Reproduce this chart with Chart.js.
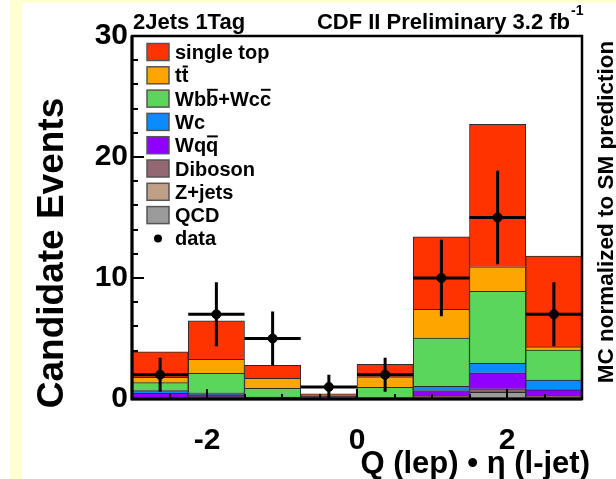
<!DOCTYPE html>
<html>
<head>
<meta charset="utf-8">
<script src="https://cdn.jsdelivr.net/npm/chart.js@4/dist/chart.umd.min.js"></script>
<style>
  html, body { margin: 0; padding: 0; background: #fff; }
  canvas { display: block; }
</style>
</head>
<body>
<canvas id="qeta" width="616" height="479"></canvas>
<script>
// histogram binning in Q(lep)*eta(l-jet)
const binEdges = [-3, -2.25, -1.5, -0.75, 0, 0.75, 1.5, 2.25, 3];

// expected events per bin, stacked bottom to top
const qcd       = [0.03, 0.03, 0.02, 0.00, 0.01, 0.08, 0.55, 0.10];
const zJets     = [0.05, 0.06, 0.04, 0.10, 0.02, 0.05, 0.10, 0.05];
const diboson   = [0.07, 0.10, 0.05, 0.12, 0.03, 0.12, 0.20, 0.10];
const wqq       = [0.32, 0.17, 0.02, 0.02, 0.01, 0.45, 1.32, 0.50];
const wc        = [0.22, 0.16, 0.02, 0.02, 0.01, 0.35, 0.78, 0.82];
const wbbWcc    = [0.66, 1.60, 0.73, 0.04, 0.89, 3.99, 5.95, 2.48];
const ttbar     = [0.45, 1.16, 0.83, 0.06, 0.87, 2.37, 2.03, 0.27];
const singleTop = [2.10, 3.19, 1.07, 0.06, 1.02, 5.99, 11.77, 7.50];

// observed counts and their errors
const dataCounts = [2, 7, 5, 1, 2, 10, 15, 7];
const dataErrors = [1.41, 2.65, 2.24, 1.0, 1.41, 3.16, 3.87, 2.65];

const xTickLabels = [-2, 0, 2];
const yTickLabels = [0, 10, 20, 30];

const FONT = '"Liberation Sans", Arial, Helvetica, sans-serif';

const binCenters = binEdges.slice(0, -1).map((e, i) => (e + binEdges[i + 1]) / 2);
const toXY = vals => vals.map((v, i) => ({ x: binCenters[i], y: v }));

const components = [
  { label: 'QCD', values: qcd, color: '#9b9b9b' },
  { label: 'Z+jets', values: zJets, color: '#bf9f86' },
  { label: 'Diboson', values: diboson, color: '#946872' },
  { label: 'Wqq\u0304', values: wqq, color: '#8f00ff' },
  { label: 'Wc', values: wc, color: '#0a8cff' },
  { label: 'Wbb\u0304+Wcc\u0304', values: wbbWcc, color: '#5ad65a' },
  { label: 'tt\u0304', values: ttbar, color: '#ffa500' },
  { label: 'single top', values: singleTop, color: '#ff3300' }
];

const barSets = components.map(c => ({
  type: 'bar',
  label: c.label,
  data: toXY(c.values),
  backgroundColor: c.color,
  borderColor: '#2a2a2a',
  borderWidth: 1,
  stack: 'mc',
  order: 1,
  barPercentage: 1,
  categoryPercentage: 1
}));

const dataSet = {
  type: 'line',
  label: 'data',
  data: toXY(dataCounts),
  showLine: false,
  pointRadius: 4.5,
  pointBackgroundColor: '#000',
  pointBorderColor: '#000',
  stack: 'obs',
  order: 0
};

// text with combining macron -> draw bar over the preceding glyph
function drawOverlined(ctx, text, x, y, capH) {
  const chars = Array.from(text);
  let cx = x;
  for (let i = 0; i < chars.length; i++) {
    const ch = chars[i];
    if (ch === '\u0304') continue;
    const w = ctx.measureText(ch).width;
    ctx.fillText(ch, cx, y);
    if (chars[i + 1] === '\u0304') {
      ctx.fillRect(cx + 1, y - capH - 2.5, w - 1.5, 2);
    }
    cx += w;
  }
}

const histoDecor = {
  id: 'histoDecor',
  beforeDraw(chart) {
    const { ctx, width, height } = chart;
    ctx.save();
    ctx.fillStyle = '#fff';
    ctx.fillRect(0, 0, width, height);
    ctx.fillStyle = '#ffffd2';
    ctx.fillRect(10, 0, 12, height);
    ctx.fillRect(10, 0, width - 10, 3);
    ctx.restore();
  },
  afterDatasetsDraw(chart) {
    const { ctx, chartArea: a } = chart;
    const xs = chart.scales.x, ys = chart.scales.y;
    ctx.save();

    // data error bars
    ctx.strokeStyle = '#000';
    ctx.lineWidth = 3;
    dataCounts.forEach((n, i) => {
      const py = ys.getPixelForValue(n);
      const px = xs.getPixelForValue(binCenters[i]);
      ctx.beginPath();
      ctx.moveTo(xs.getPixelForValue(binEdges[i]), py);
      ctx.lineTo(xs.getPixelForValue(binEdges[i + 1]), py);
      ctx.moveTo(px, ys.getPixelForValue(n - dataErrors[i]));
      ctx.lineTo(px, ys.getPixelForValue(n + dataErrors[i]));
      ctx.stroke();
    });

    // axis ticks drawn over the histogram
    ctx.lineWidth = 2;
    ctx.beginPath();
    for (let v = 0; v <= 30; v += 2) {
      const py = Math.round(ys.getPixelForValue(v));
      const len = v % 10 === 0 ? 12 : 6;
      ctx.moveTo(a.left, py);
      ctx.lineTo(a.left + len, py);
    }
    for (let v = -2.5; v < 3; v += 0.5) {
      const px = Math.round(xs.getPixelForValue(v));
      const len = v % 2 === 0 ? 10 : 5;
      ctx.moveTo(px, a.bottom);
      ctx.lineTo(px, a.bottom - len);
    }
    ctx.stroke();

    // frame
    ctx.lineWidth = 2.5;
    ctx.strokeRect(a.left, a.top, a.right - a.left, a.bottom - a.top);
    ctx.lineWidth = 3;
    ctx.beginPath();
    ctx.moveTo(a.left, a.top);
    ctx.lineTo(a.left, a.bottom);
    ctx.lineTo(a.right, a.bottom);
    ctx.stroke();

    // legend
    const entries = components.slice().reverse();
    const rowH = 23.3;
    ctx.font = 'bold 20px ' + FONT;
    ctx.textBaseline = 'alphabetic';
    entries.forEach((c, i) => {
      const cy = 52 + i * rowH;
      ctx.fillStyle = c.color;
      ctx.fillRect(147, cy - 8.5, 22, 17);
      ctx.strokeStyle = '#555';
      ctx.lineWidth = 1.5;
      ctx.strokeRect(147, cy - 8.5, 22, 17);
      ctx.fillStyle = '#000';
      drawOverlined(ctx, c.label, 175, cy + 7, 14.3);
    });
    const dy = 52 + entries.length * rowH;
    ctx.beginPath();
    ctx.arc(158, dy, 4, 0, Math.PI * 2);
    ctx.fill();
    ctx.fillText(dataSet.label, 175, dy + 7);

    // header texts
    ctx.font = 'bold 22px ' + FONT;
    ctx.textAlign = 'left';
    ctx.fillText('2Jets 1Tag', 133, 29);
    ctx.textAlign = 'right';
    ctx.fillText('CDF II Preliminary 3.2 fb', 570, 29);
    ctx.font = 'bold 14px ' + FONT;
    ctx.textAlign = 'left';
    ctx.fillText('-1', 571, 15);

    // axis titles
    ctx.font = 'bold 31px ' + FONT;
    ctx.textAlign = 'right';
    ctx.fillText('Q (lep) \u2022 \u03b7 (l-jet)', 590, 473);

    ctx.save();
    ctx.translate(63, 253);
    ctx.rotate(-Math.PI / 2);
    ctx.textAlign = 'center';
    ctx.font = 'bold 37px ' + FONT;
    ctx.fillText('Candidate Events', 0, 0);
    ctx.restore();

    ctx.save();
    ctx.translate(613, 212);
    ctx.rotate(-Math.PI / 2);
    ctx.textAlign = 'center';
    ctx.font = 'bold 22.5px ' + FONT;
    ctx.fillText('MC normalized to SM prediction', 0, 0);
    ctx.restore();

    ctx.restore();
  }
};

new Chart(document.getElementById('qeta'), {
  data: { datasets: [...barSets, dataSet] },
  options: {
    responsive: false,
    animation: false,
    devicePixelRatio: 1,
    layout: { padding: { top: 36, right: 34, left: 0, bottom: 0 } },
    plugins: { legend: { display: false }, tooltip: { enabled: false } },
    scales: {
      x: {
        type: 'linear',
        min: -3,
        max: 3,
        offset: false,
        stacked: true,
        grid: { display: false, drawTicks: false },
        border: { display: false },
        afterBuildTicks: s => { s.ticks = xTickLabels.map(v => ({ value: v })); },
        afterFit: s => { s.height = 80; },
        ticks: {
          padding: 24,
          color: '#000',
          font: { family: FONT, size: 30, weight: 'bold' },
          maxRotation: 0
        }
      },
      y: {
        type: 'linear',
        min: 0,
        max: 30,
        stacked: true,
        grid: { display: false, drawTicks: false },
        border: { display: false },
        afterBuildTicks: s => { s.ticks = yTickLabels.map(v => ({ value: v })); },
        afterFit: s => { s.width = 132; },
        ticks: {
          padding: 4,
          color: '#000',
          font: { family: FONT, size: 30, weight: 'bold' }
        }
      }
    }
  },
  plugins: [histoDecor]
});
</script>
</body>
</html>
